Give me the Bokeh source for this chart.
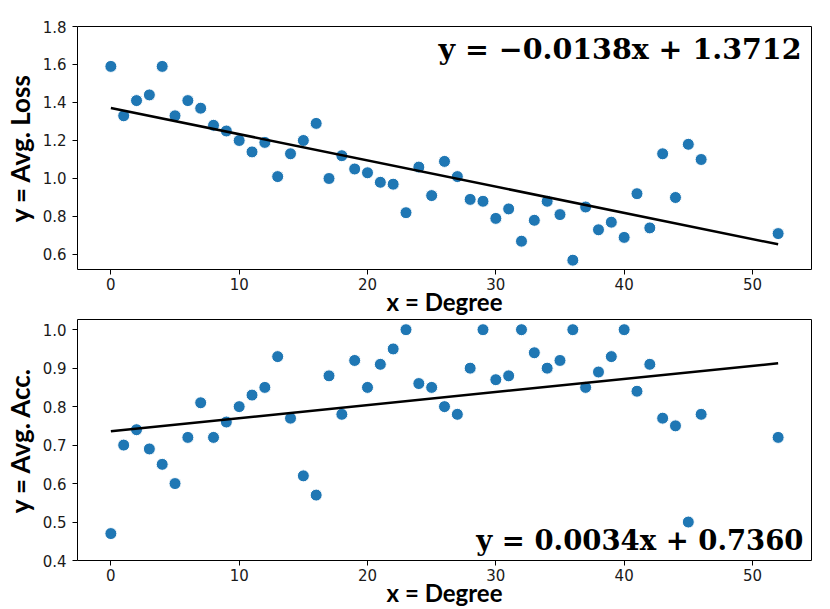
from bokeh.plotting import figure
from bokeh.layouts import column
from bokeh.models import Range1d, FixedTicker, NumeralTickFormatter, Label
from bokeh.embed import file_html
from bokeh.resources import INLINE

# ---- data ----
degree = list(range(0, 47)) + [52]
avg_loss = [1.59, 1.33, 1.41, 1.44, 1.59, 1.33, 1.41, 1.37, 1.28, 1.25,
            1.20, 1.14, 1.19, 1.01, 1.13, 1.20, 1.29, 1.00, 1.12, 1.05,
            1.03, 0.98, 0.97, 0.82, 1.06, 0.91, 1.09, 1.01, 0.89, 0.88,
            0.79, 0.84, 0.67, 0.78, 0.88, 0.81, 0.57, 0.85, 0.73, 0.77,
            0.69, 0.92, 0.74, 1.13, 0.90, 1.18, 1.10, 0.71]
avg_acc = [0.47, 0.70, 0.74, 0.69, 0.65, 0.60, 0.72, 0.81, 0.72, 0.76,
           0.80, 0.83, 0.85, 0.93, 0.77, 0.62, 0.57, 0.88, 0.78, 0.92,
           0.85, 0.91, 0.95, 1.00, 0.86, 0.85, 0.80, 0.78, 0.90, 1.00,
           0.87, 0.88, 1.00, 0.94, 0.90, 0.92, 1.00, 0.85, 0.89, 0.93,
           1.00, 0.84, 0.91, 0.77, 0.75, 0.50, 0.78, 0.72]
loss_fit = (-0.0138, 1.3712)
acc_fit = (0.0034, 0.7360)
loss_eq = "y = \u22120.0138x + 1.3712"
acc_eq = "y = 0.0034x + 0.7360"
x_ticks = [0, 10, 20, 30, 40, 50]
loss_ticks = [0.6, 0.8, 1.0, 1.2, 1.4, 1.6, 1.8]
acc_ticks = [0.4, 0.5, 0.6, 0.7, 0.8, 0.9, 1.0]
x_label = "x = Degree"
loss_label = "y = Avg. Loss"
acc_label = "y = Avg. Acc."

BLUE = "#1f77b4"
TICK_FONT = "DejaVu Sans"
LABEL_FONT = "Lato"
EQ_FONT = "DejaVu Serif"

x_lo = min(degree) - 0.05 * (max(degree) - min(degree))
x_hi = max(degree) + 0.05 * (max(degree) - min(degree))


def make_plot(ys, fit, yticks, y_range, ylabel, eq, top_border, bottom_border,
              frame_h, eq_at_top, eq_size):
    p = figure(frame_width=734, frame_height=frame_h,
               x_range=Range1d(x_lo, x_hi), y_range=Range1d(*y_range),
               output_backend="svg", toolbar_location=None,
               min_border_left=75, min_border_right=8,
               min_border_top=top_border, min_border_bottom=bottom_border)
    p.grid.visible = False
    p.outline_line_color = "black"
    p.outline_line_width = 1
    p.background_fill_color = "white"
    p.border_fill_color = "white"

    for ax in (p.xaxis[0], p.yaxis[0]):
        ax.axis_line_color = None
        ax.major_tick_line_color = "black"
        ax.major_tick_in = 0
        ax.major_tick_out = 5
        ax.minor_tick_line_color = None
        ax.major_label_text_font = TICK_FONT
        ax.major_label_text_font_size = "15px"
        ax.major_label_text_color = "#1a1a1a"
        ax.axis_label_text_font = LABEL_FONT
        ax.axis_label_text_font_style = "bold"
        ax.axis_label_text_color = "black"

    p.xaxis.ticker = FixedTicker(ticks=x_ticks)
    p.yaxis.ticker = FixedTicker(ticks=yticks)
    p.yaxis.formatter = NumeralTickFormatter(format="0.0")
    p.xaxis.major_label_standoff = 3
    p.yaxis.major_label_standoff = 6
    p.xaxis.axis_label = x_label
    p.xaxis.axis_label_text_font_size = "24px"
    p.xaxis.axis_label_standoff = -6
    p.yaxis.axis_label = ylabel
    p.yaxis.axis_label_text_font_size = "26px"
    p.yaxis.axis_label_standoff = 4

    p.scatter(degree, ys, size=12, fill_color=BLUE, line_color="white",
              line_width=1)
    fx = [min(degree), max(degree)]
    fy = [fit[0] * v + fit[1] for v in fx]
    p.line(fx, fy, line_color="black", line_width=2.5)

    if eq_at_top:
        lab = Label(x=x_hi, y=y_range[1], x_offset=-10, y_offset=-22,
                    text=eq, text_align="right", text_baseline="alphabetic")
    else:
        lab = Label(x=x_hi, y=y_range[0], x_offset=-8, y_offset=21,
                    text=eq, text_align="right", text_baseline="alphabetic")
    lab.text_font = EQ_FONT
    lab.text_font_style = "bold"
    lab.text_font_size = eq_size
    lab.text_color = "black"
    p.add_layout(lab)
    return p


p1 = make_plot(avg_loss, loss_fit, loss_ticks, (0.521, 1.8), loss_label,
               loss_eq, 26, 49, 243, True, "28.5px")
p2 = make_plot(avg_acc, acc_fit, acc_ticks, (0.4, 1.0265), acc_label,
               acc_eq, 1, 47, 241, False, "27.5px")

layout = column(p1, p2, spacing=0)
open("out.html", "w").write(file_html(layout, INLINE))
